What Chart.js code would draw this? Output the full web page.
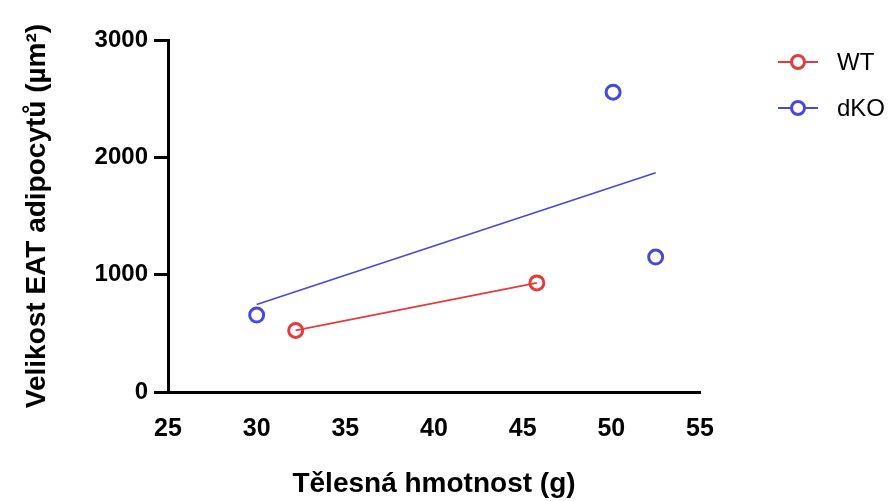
<!DOCTYPE html>
<html>
<head>
<meta charset="utf-8">
<script src="https://cdn.jsdelivr.net/npm/chart.js@4"></script>
<style>
  html, body { margin: 0; padding: 0; background: #fff; }
  #wrap { width: 896px; height: 501px; position: relative; }
</style>
</head>
<body>
<div id="wrap"><canvas id="chart" width="896" height="501"></canvas></div>
<script>
// values
var wtX = [32.2, 45.8];
var wtY = [525, 930];
var dkoX = [30.0, 50.1, 52.5];
var dkoY = [656, 2555, 1150];
// fitted lines (end points)
var wtFitX = [32.2, 45.8];
var wtFitY = [525, 930];
var dkoFitX = [30.0, 52.5];
var dkoFitY = [745, 1868];

var xTicks = [25, 30, 35, 40, 45, 50, 55];
var yTicks = [0, 1000, 2000, 3000];

var red = "rgb(226,60,60)";
var blue = "rgb(72,72,220)";
var FONT = "'Liberation Sans', Arial, sans-serif";

function pts(xs, ys) {
    return xs.map(function (x, i) { return { x: x, y: ys[i] }; });
}

var legendPlugin = {
    id: "sideLegend",
    afterDraw: function (chart) {
        var c = chart.ctx;
        var items = [["WT", red, 62], ["dKO", blue, 108]];
        c.save();
        items.forEach(function (it) {
            c.strokeStyle = it[1];
            c.lineWidth = 2;
            c.beginPath();
            c.moveTo(778, it[2]);
            c.lineTo(818, it[2]);
            c.stroke();
            c.fillStyle = "#fff";
            c.lineWidth = 3;
            c.beginPath();
            c.arc(798, it[2], 6.5, 0, Math.PI * 2);
            c.fill();
            c.stroke();
            c.fillStyle = "#000";
            c.font = "24px " + FONT;
            c.textBaseline = "middle";
            c.fillText(it[0], 837, it[2] + 1);
        });
        c.restore();
    }
};

var ctx = document.getElementById("chart");
var chartGraph = new Chart(ctx, {
    type: "scatter",
    data: {
        datasets: [
            {
                label: "WT fit",
                data: pts(wtFitX, wtFitY),
                showLine: true,
                pointRadius: 0,
                borderWidth: 1.6,
                borderColor: red,
            },
            {
                label: "dKO fit",
                data: pts(dkoFitX, dkoFitY),
                showLine: true,
                pointRadius: 0,
                borderWidth: 1.6,
                borderColor: blue,
            },
            {
                label: "WT",
                data: pts(wtX, wtY),
                pointRadius: 7,
                borderWidth: 3,
                borderColor: red,
                backgroundColor: "#fff",
            },
            {
                label: "dKO",
                data: pts(dkoX, dkoY),
                pointRadius: 7,
                borderWidth: 3,
                borderColor: blue,
                backgroundColor: "#fff",
            }
        ],
    },
    options: {
        responsive: false,
        animation: false,
        devicePixelRatio: 1,
        layout: { padding: { top: 40, right: 196, left: 0, bottom: 0 } },
        plugins: { legend: { display: false }, tooltip: { enabled: false } },
        scales: {
            x: {
                type: "linear",
                min: 25,
                max: 55,
                afterBuildTicks: function (s) { s.ticks = xTicks.map(function (v) { return { value: v }; }); },
                afterFit: function (s) { s.height = 109; },
                grid: { display: false },
                border: { display: true, color: "#000", width: 3 },
                ticks: {
                    color: "#000",
                    padding: 14,
                    maxRotation: 0,
                    callback: function (v) { return String(v); },
                    font: { family: FONT, size: 25, weight: "bold" }
                },
                title: {
                    display: true,
                    text: "Tělesná hmotnost (g)",
                    color: "#000",
                    padding: { top: 0, bottom: 0 },
                    font: { family: FONT, size: 28, weight: "bold" }
                }
            },
            y: {
                min: 0,
                max: 3000,
                afterBuildTicks: function (s) { s.ticks = yTicks.map(function (v) { return { value: v }; }); },
                afterFit: function (s) { s.width = 168; },
                grid: {
                    display: true,
                    drawOnChartArea: false,
                    drawTicks: true,
                    tickLength: 14,
                    lineWidth: 3,
                    color: "#000"
                },
                border: { display: true, color: "#000", width: 3 },
                ticks: {
                    color: "#000",
                    padding: 6,
                    callback: function (v) { return String(v); },
                    font: { family: FONT, size: 24, weight: "bold" }
                },
                title: {
                    display: true,
                    text: "Velikost EAT adipocytů (µm²)",
                    color: "#000",
                    padding: { top: 20, bottom: 0 },
                    font: { family: FONT, size: 28, weight: "bold" }
                }
            }
        }
    },
    plugins: [legendPlugin]
});
</script>
</body>
</html>
